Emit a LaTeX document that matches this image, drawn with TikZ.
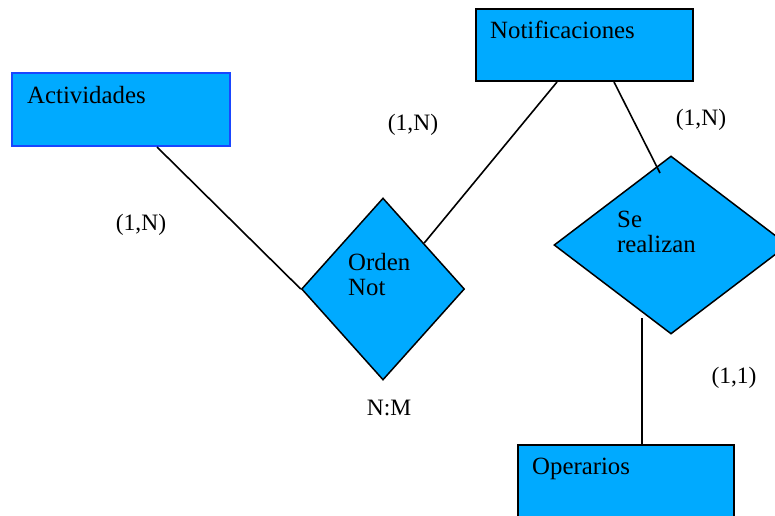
\documentclass[tikz,border=0pt]{standalone}
\usepackage{fontspec}
\setmainfont{Liberation Serif}
\usetikzlibrary{shapes.geometric,calc}
\definecolor{erfill}{RGB}{0,170,255}
\definecolor{erblue}{RGB}{25,70,255}
\tikzset{
  entity/.style={draw=black, line width=2pt, fill=erfill, rectangle, inner sep=0pt, anchor=north west},
  relation/.style={draw=black, line width=1.5pt, fill=erfill, diamond, inner sep=0pt},
  link/.style={draw=black, line width=1.6pt},
  txt/.style={font=\fontsize{24.8}{26}\selectfont, inner sep=0pt, anchor=base west},
  card/.style={font=\fontsize{23.5}{25}\selectfont, inner sep=0pt},
}
\begin{document}
\begin{tikzpicture}[x=1pt,y=-1pt]
\useasboundingbox[fill=white] (0,0) rectangle (775,515);

% free ends of two connectors, just inside "Se realizan"
\coordinate (seIn) at (660,173);
\coordinate (seFoot) at (642,318);

% entities
\node[entity, draw=erblue, minimum width=218pt, minimum height=73pt] (act) at (11,72) {};
\node[entity, minimum width=217pt, minimum height=72pt] (notif) at (475,8) {};
\node[entity, minimum width=216pt, minimum height=90pt] (oper) at (517,444) {};

% relationships
\node[relation, minimum width=163pt, minimum height=182pt] (orden) at (383,289) {};
\node[relation, minimum width=234pt, minimum height=178pt] (se) at (671,245) {};

% connectors
\draw[link] ([xshift=146pt]act.south west) -- (orden.west);
\draw[link] ([xshift=82pt]notif.south west) -- (orden.north east);
\draw[link] ([xshift=139pt]notif.south west) -- (seIn);
\draw[link] (seFoot) -- (seFoot |- oper.north);

% texts
\node[txt] (tact) at (27,103) {Actividades};
\node[txt] (tnotif) at (490,38) {Notificaciones};
\node[txt] (toper) at (532,474) {Operarios};
\node[txt] (torden1) at (348,270) {Orden};
\node[txt] (torden2) at (348,295) {Not};
\node[txt] (tse1) at (617,227) {Se};
\node[txt] (tse2) at (617,252) {realizan};

% cardinalities
\node[card] (c1) at (141,225) {(1,N)};
\node[card] (c2) at (413,125) {(1,N)};
\node[card] (c3) at (701,120) {(1,N)};
\node[card] (c4) at (734,378) {(1,1)};
\node[card] (c5) at (389,408) {N:M};
\end{tikzpicture}
\end{document}
